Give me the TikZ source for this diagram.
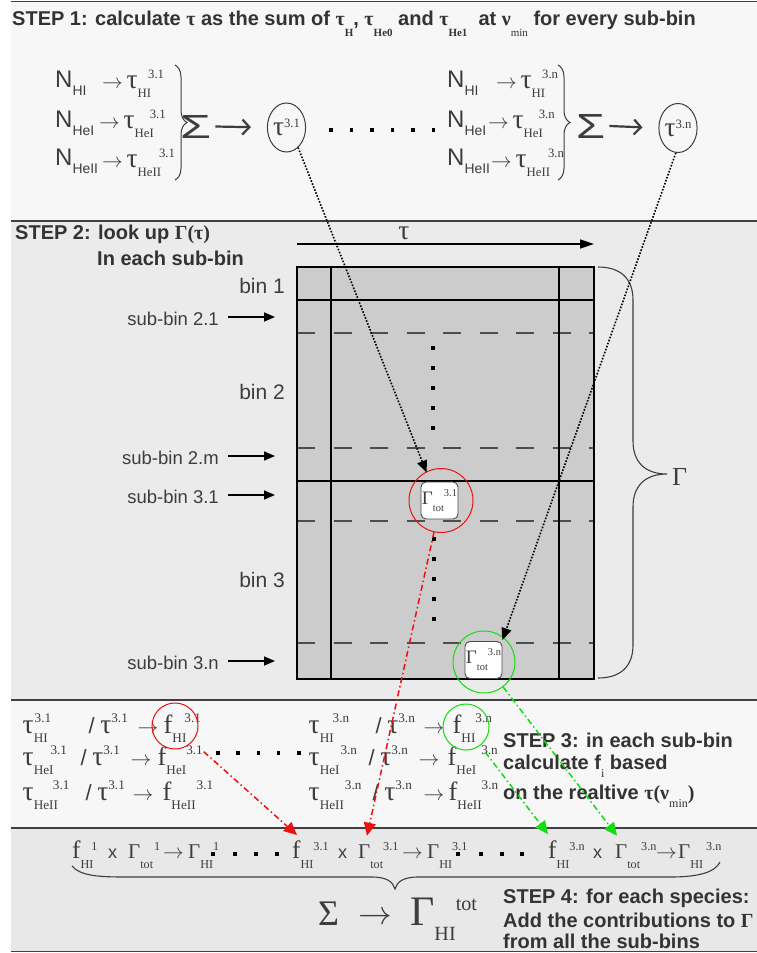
\documentclass[tikz,border=0pt]{standalone}
\usepackage{fontspec}
\setmainfont{Liberation Serif}
\setsansfont{Liberation Sans}
\usetikzlibrary{arrows.meta,shapes.geometric,calc,decorations.pathreplacing}
\definecolor{txt}{HTML}{3D3D3D}
\definecolor{stepc}{HTML}{333333}
\definecolor{pA}{HTML}{F7F7F7}
\definecolor{pB}{HTML}{EBEBEB}
\definecolor{pD}{HTML}{E8E8E8}
\definecolor{gridc}{HTML}{CCCCCC}
\definecolor{sepc}{HTML}{404040}
\definecolor{redc}{HTML}{EE1111}
\definecolor{grnc}{HTML}{11DD11}
\def\ssc{0.58}
\newcommand\sbsp[5]{\setbox0\hbox{\raisebox{-#4}{\scalebox{\ssc}{#1}}}\setbox2\hbox{\raisebox{#5}{\scalebox{\ssc}{#2}}}\rlap{\copy0}\hspace*{\dimexpr\wd0+#3\relax}\box2}
\newcommand\putat[2]{\makebox[0pt][l]{\hspace*{#1}#2}}
\newcommand\hsub[1]{\raisebox{-11pt}{\scalebox{0.55}{\rmfamily #1}}}
\newcommand\tg{\scalebox{1.25}{τ}}
\newcommand\ff{\scalebox{1.2}{f}}
\newcommand\ar{\ensuremath{\rightarrow}}
\tikzset{
  lbl/.style={inner sep=0pt, anchor=base west, text=txt},
  stepl/.style={lbl, text=stepc, font=\sffamily\bfseries\fontsize{20}{24}\selectfont},
  nfont/.style={font=\sffamily\fontsize{24}{26}\selectfont},
  tfont/.style={font=\fontsize{22}{26}\selectfont},
  binl/.style={inner sep=0pt, anchor=base east, text=txt, font=\sffamily\fontsize{21}{24}\selectfont},
  subl/.style={inner sep=0pt, anchor=base east, text=txt, font=\sffamily\fontsize{18.5}{22}\selectfont},
  subarr/.style={line width=1.6, -{Triangle[length=11pt,width=9pt]}},
  sep/.style={draw=sepc, line width=1.5},
  gline/.style={line width=1.6, draw=black},
  dline/.style={line width=1.2, draw=black!70, dash pattern=on 18pt off 18.5pt},
  gbox/.style={draw=black!70, fill=white, rounded corners=5pt, minimum size=37pt, inner sep=0pt, line width=0.9, font=\fontsize{19}{20}\selectfont, text=txt},
  sqdot/.style={fill=black, minimum size=3.5pt, inner sep=0pt, rectangle},
  dotarr/.style={line width=1.6, dash pattern=on 1.6pt off 1.6pt, -{Triangle[length=12pt,width=10pt]}},
  redarr/.style={draw=redc, line width=1.5, dash pattern=on 6pt off 3pt on 1.5pt off 3pt, -{Triangle[length=13pt,width=12pt]}},
  grnarr/.style={draw=grnc, line width=1.5, dash pattern=on 6pt off 3pt on 1.5pt off 3pt, -{Triangle[length=13pt,width=12pt]}},
  brc/.style={draw=txt, line width=1, decorate, decoration={brace, amplitude=12pt}},
  bigarr/.style={draw=txt, line width=2.2, -{Straight Barb[length=7pt,width=15pt]}},
  ellnode/.style={ellipse, draw=txt, line width=1, minimum width=34pt, minimum height=49pt, inner sep=0pt, font=\fontsize{22}{24}\selectfont, text=txt},
  rowf/.style={lbl, font=\fontsize{22}{24}\selectfont},
  term/.style={lbl, font=\fontsize{21}{24}\selectfont},
  termx/.style={lbl, font=\sffamily\fontsize{18}{20}\selectfont},
  ring/.style={circle, line width=1, inner sep=0pt, fill=none}
}
\begin{document}
\begin{tikzpicture}[x=1pt,y=-1pt]
\useasboundingbox (0,0) rectangle (757,953);
\fill[white] (0,0) rectangle (757,953);
\fill[pA] (11,1) rectangle (757,221);
\fill[pB] (11,221) rectangle (757,700);
\fill[pA] (11,700) rectangle (757,828);
\fill[pD] (11,828) rectangle (757,951);
\foreach \yy in {1.5,221,700,828,951.5} \draw[sep] (11,\yy) -- (757,\yy);

% ---------- STEP 1
\node[stepl] (h1) at (12,25) {STEP 1: calculate {\rmfamily τ} as the sum of {\rmfamily τ}\hsub{H}, {\rmfamily τ}\hsub{He0} and {\rmfamily τ}\hsub{He1}\ \ at {\rmfamily ν}\hsub{\mdseries min} for every sub-bin};

\node[lbl,nfont] (na1) at (55,87) {N\sbsp{HI}{}{0pt}{8pt}{0pt}};
\node[lbl,nfont] (na2) at (55,127) {N\sbsp{HeI}{}{0pt}{8pt}{0pt}};
\node[lbl,nfont] (na3) at (55,165) {N\sbsp{HeII}{}{0pt}{8pt}{0pt}};
\node[lbl,tfont] (ta1) at (102,88) {\ar\,\tg\sbsp{HI}{3.1}{-3pt}{9pt}{10pt}};
\node[lbl,tfont] (ta2) at (99,128) {\ar\,\tg\sbsp{HeI}{3.1}{-4pt}{9pt}{10pt}};
\node[lbl,tfont] (ta3) at (102,167) {\ar\,\tg\sbsp{HeII}{3.1}{-2pt}{9pt}{10pt}};
\draw[brc] (175,65) -- (175,180);
\node[lbl, font=\sffamily\fontsize{24}{24}\selectfont] (sa) at (180,138) {\resizebox{31pt}{23pt}{Σ}};
\node[ellnode] (ea) at (286.5,127.5) {\tg\raisebox{8pt}{\scalebox{0.58}{3.1}}};
\draw[bigarr, shorten >=16pt] (sa.east) ++(4,0) -- (ea.west);

\foreach \i in {0,...,5} \node[sqdot] (pd\i) at (331+20.5*\i,130) {};

\node[lbl,nfont] (nb1) at (447,87) {N\sbsp{HI}{}{0pt}{8pt}{0pt}};
\node[lbl,nfont] (nb2) at (447,127) {N\sbsp{HeI}{}{0pt}{8pt}{0pt}};
\node[lbl,nfont] (nb3) at (447,165) {N\sbsp{HeII}{}{0pt}{8pt}{0pt}};
\node[lbl,tfont] (tb1) at (496,88) {\ar\,\tg\sbsp{HI}{3.n}{-3pt}{9pt}{10pt}};
\node[lbl,tfont] (tb2) at (488,128) {\ar\,\tg\sbsp{HeI}{3.n}{-4pt}{9pt}{10pt}};
\node[lbl,tfont] (tb3) at (491,167) {\ar\,\tg\sbsp{HeII}{3.n}{-2pt}{9pt}{10pt}};
\draw[brc] (558,65) -- (558,180);
\node[lbl, font=\sffamily\fontsize{24}{24}\selectfont] (sb) at (576,138) {\resizebox{29pt}{24pt}{Σ}};
\node[ellnode] (eb) at (678,128) {\tg\raisebox{8pt}{\scalebox{0.58}{3.n}}};
\draw[bigarr, shorten >=16pt] (sb.east) ++(4,0) -- (eb.west);

% ---------- STEP 2
\node[stepl] (h2) at (15,239) {STEP 2: look up {\rmfamily Γ(τ)}};
\node[stepl] (h2b) at (97,265) {In each sub-bin};
\draw[line width=1.6, -{Triangle[length=14pt,width=9pt]}] (297,244) -- (594,244);
\node[text=txt, inner sep=0pt, font=\fontsize{22}{24}\selectfont] (tau) at (404,233) {\tg};

\fill[gridc] (297,267) rectangle (594,679);
\foreach \yy in {333,448,521,643} \draw[dline] (297,\yy) -- (594,\yy);
\draw[gline] (297,267) rectangle (594,679);
\draw[gline] (331,267) -- (331,679) (559,267) -- (559,679) (297,300) -- (594,300) (297,481) -- (594,481);

\node[binl] (b1) at (285,293) {bin 1};
\node[binl] (b2) at (285,399) {bin 2};
\node[binl] (b3) at (285,587) {bin 3};
\node[subl] (s21) at (219,325) {sub-bin 2.1};
\node[subl] (s2m) at (219,464) {sub-bin 2.m};
\node[subl] (s31) at (219,503) {sub-bin 3.1};
\node[subl] (s3n) at (219,669) {sub-bin 3.n};
\foreach \n in {s21,s2m,s31,s3n} \draw[subarr] ($(\n.base east)+(9,-8)$) -- ++(47,0);

\foreach \i in {0,...,4} \node[sqdot] (va\i) at (433,348+20*\i) {};
\foreach \i in {0,...,4} \node[sqdot] (vb\i) at (434,539+20*\i) {};

\node[gbox] (g31) at (439.5,500.5) {\def\ssc{0.55}Γ\sbsp{tot}{3.1}{0pt}{7pt}{8pt}};
\node[gbox] (g3n) at (483.5,660) {\def\ssc{0.55}Γ\sbsp{tot}{3.n}{0pt}{7pt}{8pt}};
\node[ring, draw=redc, minimum size=64pt] (rc1) at (441,500.5) {};
\node[ring, draw=grnc, minimum size=62pt] (gc1) at (484,662) {};

\draw[draw=txt, line width=1.1] (598,267) .. controls (620,267) and (633,278) .. (633,300) -- (633,441) .. controls (633,462) and (645,474) .. (667,474) .. controls (645,474) and (633,486) .. (633,507) -- (633,645) .. controls (633,667) and (620,678) .. (598,678);
\node[lbl, font=\fontsize{26}{28}\selectfont] (gam) at (672,485) {Γ};

\draw[dotarr] (ea.-60) -- ($(g31.north west)+(6,-9)$);
\draw[dotarr] (eb.-95) -- ($(g3n.north east)+(0,-1)$);

% ---------- STEP 3
\def\ssc{0.6}
\node[rowf] (ra1) at (22,733) {\putat{0pt}{\tg\sbsp{HI}{3.1}{-13pt}{9pt}{11pt}}\putat{66pt}{{\sffamily /} \tg\sbsp{}{3.1}{0pt}{9pt}{11pt}}\putat{115pt}{\ar}\putat{141pt}{\ff\sbsp{HI}{3.1}{-2pt}{9pt}{11pt}}};
\node[rowf] (ra2) at (22,765) {\putat{0pt}{\tg\sbsp{HeI}{3.1}{-3pt}{9pt}{11pt}}\putat{58pt}{{\sffamily /} \tg\sbsp{}{3.1}{0pt}{9pt}{11pt}}\putat{108pt}{\ar}\putat{135pt}{\ff\sbsp{HeI}{3.1}{0pt}{9pt}{11pt}}};
\node[rowf] (ra3) at (22,800) {\putat{0pt}{\tg\sbsp{HeII}{3.1}{-5pt}{9pt}{11pt}}\putat{63pt}{{\sffamily /} \tg\sbsp{}{3.1}{0pt}{9pt}{11pt}}\putat{110pt}{\ar}\putat{140pt}{\ff\sbsp{HeII}{3.1}{1pt}{9pt}{11pt}}};
\node[rowf] (rb1) at (308,733) {\putat{0pt}{\tg\sbsp{HI}{3.n}{-1pt}{9pt}{11pt}}\putat{67pt}{{\sffamily /} \tg\sbsp{}{3.n}{0pt}{9pt}{11pt}}\putat{115pt}{\ar}\putat{144pt}{\ff\sbsp{HI}{3.n}{0pt}{9pt}{11pt}}};
\node[rowf] (rb2) at (308,765) {\putat{0pt}{\tg\sbsp{HeI}{3.n}{1pt}{9pt}{11pt}}\putat{60pt}{{\sffamily /} \tg\sbsp{}{3.n}{0pt}{9pt}{11pt}}\putat{110pt}{\ar}\putat{139pt}{\ff\sbsp{HeI}{3.n}{5pt}{9pt}{11pt}}};
\node[rowf] (rb3) at (308,800) {\putat{0pt}{\tg\sbsp{HeII}{3.n}{1pt}{9pt}{11pt}}\putat{64pt}{{\sffamily /} \tg\sbsp{}{3.n}{0pt}{9pt}{11pt}}\putat{115pt}{\ar}\putat{140pt}{\ff\sbsp{HeII}{3.n}{0pt}{9pt}{11pt}}};
\node[ring, draw=redc, minimum size=46pt] (rc2) at (175,726) {};
\node[ring, draw=grnc, minimum size=46pt] (gc2) at (466,727) {};
\foreach \i in {0,...,4} \node[sqdot] (hd\i) at (218+20.2*\i,753) {};

\node[stepl] (h3a) at (503,747) {STEP 3: in each sub-bin};
\node[stepl] (h3b) at (503,769) {calculate f\raisebox{-8pt}{\scalebox{0.6}{\rmfamily\mdseries i}} based};
\node[stepl] (h3c) at (503,799) {on the realtive {\rmfamily τ(ν\raisebox{-8pt}{\scalebox{0.6}{\mdseries min}})}};

% ---------- STEP 4
\def\ssc{0.58}
\node[term] (f1) at (72,858) {\ff\sbsp{HI}{1}{-2pt}{10pt}{8pt}};
\node[termx] (x1) at (108,858) {x};
\node[term] (G1) at (128,858) {Γ\sbsp{tot}{1}{1pt}{10pt}{8pt}};
\node[term] (a1) at (163,858) {\ar};
\node[term] (GH1) at (188,858) {Γ\sbsp{HI}{1}{0pt}{10pt}{8pt}};
\node[term] (f31) at (292,858) {\ff\sbsp{HI}{3.1}{0pt}{10pt}{8pt}};
\node[termx] (x31) at (338,858) {x};
\node[term] (G31) at (358,858) {Γ\sbsp{tot}{3.1}{0pt}{10pt}{8pt}};
\node[term] (a31) at (402,858) {\ar};
\node[term] (GH31) at (427,858) {Γ\sbsp{HI}{3.1}{0pt}{10pt}{8pt}};
\node[term] (f3n) at (548,858) {\ff\sbsp{HI}{3.n}{0pt}{10pt}{8pt}};
\node[termx] (x3n) at (593,858) {x};
\node[term] (G3n) at (615,858) {Γ\sbsp{tot}{3.n}{1pt}{10pt}{8pt}};
\node[term] (a3n) at (656,858) {\ar};
\node[term] (GH3n) at (678,858) {Γ\sbsp{HI}{3.n}{3pt}{10pt}{8pt}};
\foreach \xx [count=\i] in {213,235,256,277,458,481,502,522} \node[sqdot] (bd\i) at (\xx,854) {};

\draw[draw=txt, line width=1.1] (72,866) .. controls (80,876) and (100,877) .. (125,877) -- (372,877) .. controls (387,877) and (393,882) .. (395,889) .. controls (397,882) and (403,877) .. (418,877) -- (670,877) .. controls (700,877) and (715,872) .. (720,862);

\node[lbl, font=\fontsize{36}{40}\selectfont] (sig) at (318,925) {Σ};
\node[lbl, font=\fontsize{30}{32}\selectfont] (arr) at (358,924) {\scalebox{1.35}{\ar}};
\node[lbl, font=\fontsize{42}{44}\selectfont] (gt) at (410,925) {\def\ssc{0.48}Γ\sbsp{HI}{tot}{0pt}{15pt}{15pt}};

\node[stepl] (h4a) at (503,903) {STEP 4: for each species:};
\node[stepl] (h4b) at (503,927) {Add the contributions to {\rmfamily Γ}};
\node[stepl] (h4c) at (503,948) {from all the sub-bins};

\draw[redarr, shorten <=15pt] (rc2) -- ($(f31.north west)+(5,-5)$);
\draw[redarr] (rc1) -- ($(G31.north west)+(9,-6)$);
\draw[grnarr, shorten <=8pt] (gc2) -- ($(f3n.north west)+(0,-6)$);
\draw[grnarr] (gc1) -- ($(G3n.north west)+(2,-6)$);
\end{tikzpicture}
\end{document}
